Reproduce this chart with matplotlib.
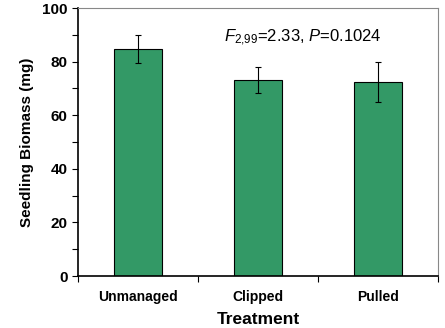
import matplotlib
matplotlib.use("Agg")
from matplotlib import pyplot as plt
from matplotlib.ticker import MultipleLocator, FixedLocator

treatments = ['Unmanaged', 'Clipped', 'Pulled']
biomass = [84.8, 73.0, 72.4]
biomass_err = [5.3, 4.8, 7.4]
yticks = [0, 20, 40, 60, 80, 100]

plt.rcParams['font.family'] = ['Liberation Sans', 'DejaVu Sans']
plt.rcParams['mathtext.fontset'] = 'custom'
plt.rcParams['mathtext.rm'] = 'Liberation Sans'
plt.rcParams['mathtext.it'] = 'Liberation Sans:italic'

fig = plt.figure(figsize=[4.45, 3.28], dpi=100)
ax = fig.add_axes([78 / 445, 1 - 276 / 328, 360 / 445, 268 / 328])

x = range(len(treatments))
ax.bar(x, biomass, width=0.4, color='#339966', edgecolor='black', linewidth=0.8,
       yerr=biomass_err, error_kw=dict(ecolor='black', elinewidth=0.8, capsize=2.5, capthick=0.8))

ax.set_xlim(-0.5, 2.5)
ax.set_ylim(0, 100)
ax.set_yticks(yticks)
ax.set_yticklabels([str(v) for v in yticks], fontweight='bold', fontsize=11)
ax.yaxis.set_minor_locator(MultipleLocator(10))
ax.set_xticks(list(x))
ax.set_xticklabels(treatments, fontweight='bold', fontsize=10)
ax.tick_params(axis='x', which='major', length=0, pad=10)
ax.xaxis.set_minor_locator(FixedLocator([-0.5, 0.5, 1.5, 2.5]))
ax.tick_params(axis='x', which='minor', length=4, width=0.8)
ax.tick_params(axis='y', which='both', length=4, width=0.8)

for side in ['left', 'bottom']:
    ax.spines[side].set_linewidth(1.2)
for side in ['top', 'right']:
    ax.spines[side].set_color('#888888')
    ax.spines[side].set_linewidth(0.8)

ax.set_ylabel('Seedling Biomass (mg)', fontweight='bold', fontsize=11, labelpad=6)
ax.set_xlabel('Treatment', fontweight='bold', fontsize=12.5, labelpad=6)

ax.text(1.375, 88.8, r'$F_{2{,}99}$=2.33, $P$=0.1024', ha='center', va='center', fontsize=12)

fig.savefig('out.png', dpi=100)
